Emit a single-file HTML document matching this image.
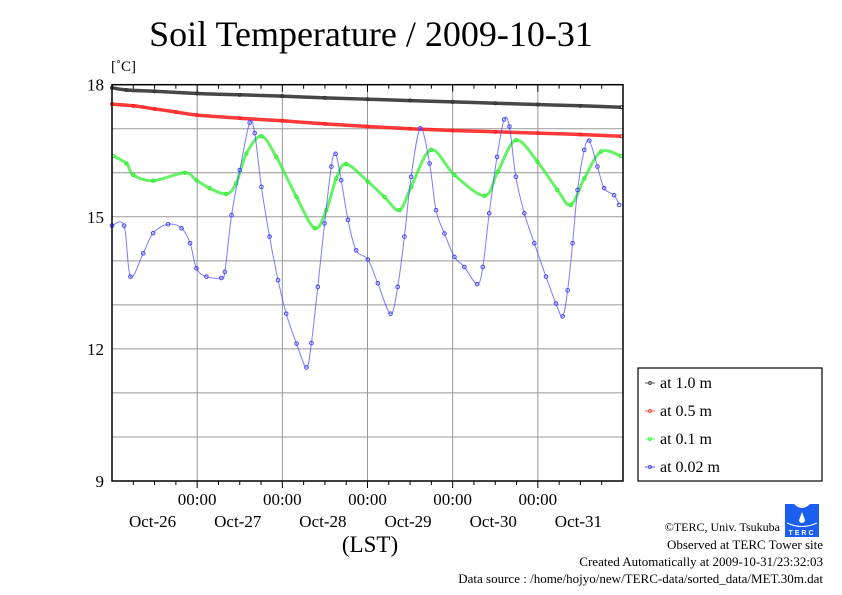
<!DOCTYPE html>
<html><head><meta charset="utf-8"><style>
body{margin:0;background:#fff}
svg{display:block;font-family:"Liberation Serif",serif}
</style></head><body>
<svg id="c" width="842" height="595" viewBox="0 0 842 595">
<rect width="842" height="595" fill="#fff"/>
<text x="371" y="46" font-size="36" text-anchor="middle">Soil Temperature / 2009-10-31</text>
<text x="111" y="71" font-size="15">[˚C]</text>
<g id="grid"></g>
<g id="series"></g>
<rect x="112" y="84.7" width="511" height="396.3" fill="none" stroke="#000" stroke-width="1.5"/>
<g id="axes"></g>
<text x="370" y="552" font-size="23" text-anchor="middle">(LST)</text>
<g>
<rect x="638" y="368" width="184" height="113" fill="#fff" stroke="#000" stroke-width="1.2"/>
<g><line x1="645" y1="383" x2="655" y2="383" stroke="#555"/><circle cx="650" cy="383" r="1.6" fill="none" stroke="#555"/><text x="660" y="388" font-size="16">at 1.0 m</text></g>
<g><line x1="645" y1="411" x2="655" y2="411" stroke="#f55"/><circle cx="650" cy="411" r="1.6" fill="none" stroke="#f55"/><text x="660" y="416" font-size="16">at 0.5 m</text></g>
<g><line x1="645" y1="439" x2="655" y2="439" stroke="#5f5"/><circle cx="650" cy="439" r="1.6" fill="none" stroke="#5f5"/><text x="660" y="444" font-size="16">at 0.1 m</text></g>
<g><line x1="645" y1="467" x2="655" y2="467" stroke="#55f"/><circle cx="650" cy="467" r="1.6" fill="none" stroke="#55f"/><text x="660" y="472" font-size="16">at 0.02 m</text></g>
</g>
<g>
<rect x="785" y="504" width="34" height="33" fill="#1a5ff0"/>
<path d="M794 504 Q802 512 810 504 Z" fill="#fff"/>
<path d="M802 512 L805 520 A3 3 0 1 1 799 520 Z" fill="#fff"/>
<path d="M787 523 Q802 530 817 523" stroke="#fff" fill="none"/>
<text x="802" y="535" font-size="7" fill="#fff" text-anchor="middle" font-family="Liberation Sans" font-weight="bold" letter-spacing="2">TERC</text>
</g>
<g font-size="13" text-anchor="end">
<text x="780" y="531" font-size="12">©TERC, Univ. Tsukuba</text>
<text x="823" y="549">Observed at TERC Tower site</text>
<text x="823" y="566">Created Automatically at 2009-10-31/23:32:03</text>
<text x="823" y="583">Data source : /home/hojyo/new/TERC-data/sorted_data/MET.30m.dat</text>
</g>
</svg>
<script>
const yTicks=[18,15,12,9];
const dayLabels=["Oct-26","Oct-27","Oct-28","Oct-29","Oct-30","Oct-31"];
const hTimes1=[0,4,12,24,36,48,60,72,84,96,108,120,132,143.5];
const hVals1=[17.93,17.88,17.85,17.80,17.77,17.74,17.70,17.67,17.64,17.61,17.58,17.55,17.52,17.49];
const hTimes05=[0,6,12,18,24,36,48,60,72,84,96,108,120,132,143.5];
const hVals05=[17.56,17.52,17.45,17.38,17.31,17.24,17.18,17.11,17.05,17.00,16.96,16.93,16.90,16.87,16.83];
const hTimes01=[0.4,4.1,6,11.6,20.5,23.8,27.5,32.2,35,37.9,42.1,46.3,52,57.1,60.4,63.2,66,72.1,76.8,81,84.3,89.9,96.5,105,108.7,113.8,119.9,125.5,129.3,133.1,137.8,143.4];
const hVals01=[16.38,16.21,15.95,15.82,16.0,15.83,15.65,15.52,15.76,16.44,16.83,16.36,15.45,14.74,15.15,15.87,16.20,15.80,15.45,15.15,15.68,16.52,15.95,15.48,16.02,16.74,16.25,15.61,15.27,15.87,16.48,16.38];
const hTimes002=[0,3.4,5.2,8.8,11.6,15.8,19.6,22,23.8,26.6,30.8,31.8,33.7,36,38.8,40.2,42.1,44.4,46.8,49.1,52,54.8,56.2,58,59.9,61.8,63,64.6,66.5,68.8,72.1,74.9,78.5,80.5,82.4,84.3,86.9,89.5,91.3,93.7,96.5,99.3,102.9,104.5,106.3,108.5,110.5,112,113.8,116.2,119,122.3,125.1,127,128.4,129.8,131.2,133.1,134.5,136.8,138.7,141.5,142.9];
const hVals002=[14.80,14.80,13.64,14.17,14.63,14.83,14.74,14.40,13.83,13.64,13.61,13.75,15.04,16.06,17.14,16.90,15.68,14.55,13.56,12.80,12.12,11.58,12.13,13.41,14.85,16.14,16.43,15.83,14.93,14.24,14.03,13.49,12.80,13.41,14.55,15.91,17.01,16.21,15.15,14.62,14.09,13.86,13.47,13.86,15.08,16.36,17.21,17.05,15.91,15.08,14.40,13.64,13.03,12.74,13.33,14.40,15.61,16.52,16.73,16.14,15.65,15.49,15.27];

const X0=112,X1=623,Y0=84.7,Y1=481,TMAX=144,VMIN=9,VMAX=18;
const xs=h=>X0+(h/TMAX)*(X1-X0);
const ys=v=>Y0+(VMAX-v)/(VMAX-VMIN)*(Y1-Y0);
const NS="http://www.w3.org/2000/svg";
function mk(tag,attrs,parent){const e=document.createElementNS(NS,tag);for(const k in attrs)e.setAttribute(k,attrs[k]);parent.appendChild(e);return e;}
const grid=document.getElementById('grid'),axes=document.getElementById('axes'),ser=document.getElementById('series');
for(let v=10;v<18;v++){const l=mk('line',{x1:X0,x2:X1,y1:ys(v),y2:ys(v),stroke:'#999','stroke-width':1},grid);

}
for(let d=1;d<6;d++){const l=mk('line',{x1:xs(d*24),x2:xs(d*24),y1:Y0,y2:Y1,stroke:'#999','stroke-width':1},grid);

}
yTicks.forEach(v=>{const t=mk('text',{x:104,y:ys(v)+6,'font-size':17,'text-anchor':'end'},axes);t.textContent=v;

});
for(let h=6;h<TMAX;h+=6){const maj=h%24===0;
mk('line',{x1:xs(h),x2:xs(h),y1:Y1,y2:Y1+(maj?7:4),stroke:'#000'},axes);
mk('line',{x1:xs(h),x2:xs(h),y1:Y0,y2:Y0+(maj?7:4),stroke:'#000'},axes);}
for(let d=1;d<6;d++){const t=mk('text',{x:xs(d*24),y:505,'font-size':17,'text-anchor':'middle'},axes);t.textContent='00:00';

}
dayLabels.forEach((s,i)=>{const t=mk('text',{x:xs(i*24+12)-2,y:527,'font-size':17,'text-anchor':'middle'},axes);t.textContent=s;

});
function smoothPath(P){
 let d='M'+P[0][0].toFixed(1)+','+P[0][1].toFixed(1);
 for(let i=0;i<P.length-1;i++){
  const p0=P[Math.max(i-1,0)],p1=P[i],p2=P[i+1],p3=P[Math.min(i+2,P.length-1)];
  const c1=[p1[0]+(p2[0]-p0[0])/6,p1[1]+(p2[1]-p0[1])/6],c2=[p2[0]-(p3[0]-p1[0])/6,p2[1]-(p3[1]-p1[1])/6];
  d+=' C'+c1.map(n=>n.toFixed(1)).join(',')+' '+c2.map(n=>n.toFixed(1)).join(',')+' '+p2[0].toFixed(1)+','+p2[1].toFixed(1);
 }
 return d;
}
function draw(name,times,vals,col,w,r,op){
 const g=mk('g',{},ser);
 
 
 const P=times.map((t,i)=>[xs(t),ys(vals[i])]);
 mk('path',{d:smoothPath(P),fill:'none',stroke:col,'stroke-width':w,'stroke-opacity':op},g);
 times.forEach((t,i)=>{const c=mk('circle',{cx:xs(t),cy:ys(vals[i]),r:r,fill:'none',stroke:col,'stroke-width':1},g);
 
 });
}
draw('series-1m',hTimes1,hVals1,'#333',3.5,1.5,0.9);
draw('series-05m',hTimes05,hVals05,'#f22',3.5,1.5,0.9);
draw('series-01m',hTimes01,hVals01,'#3e3',3,1.7,0.75);
draw('series-002m',hTimes002,hVals002,'#44f',1,1.8,0.7);
</script>
</body></html>
